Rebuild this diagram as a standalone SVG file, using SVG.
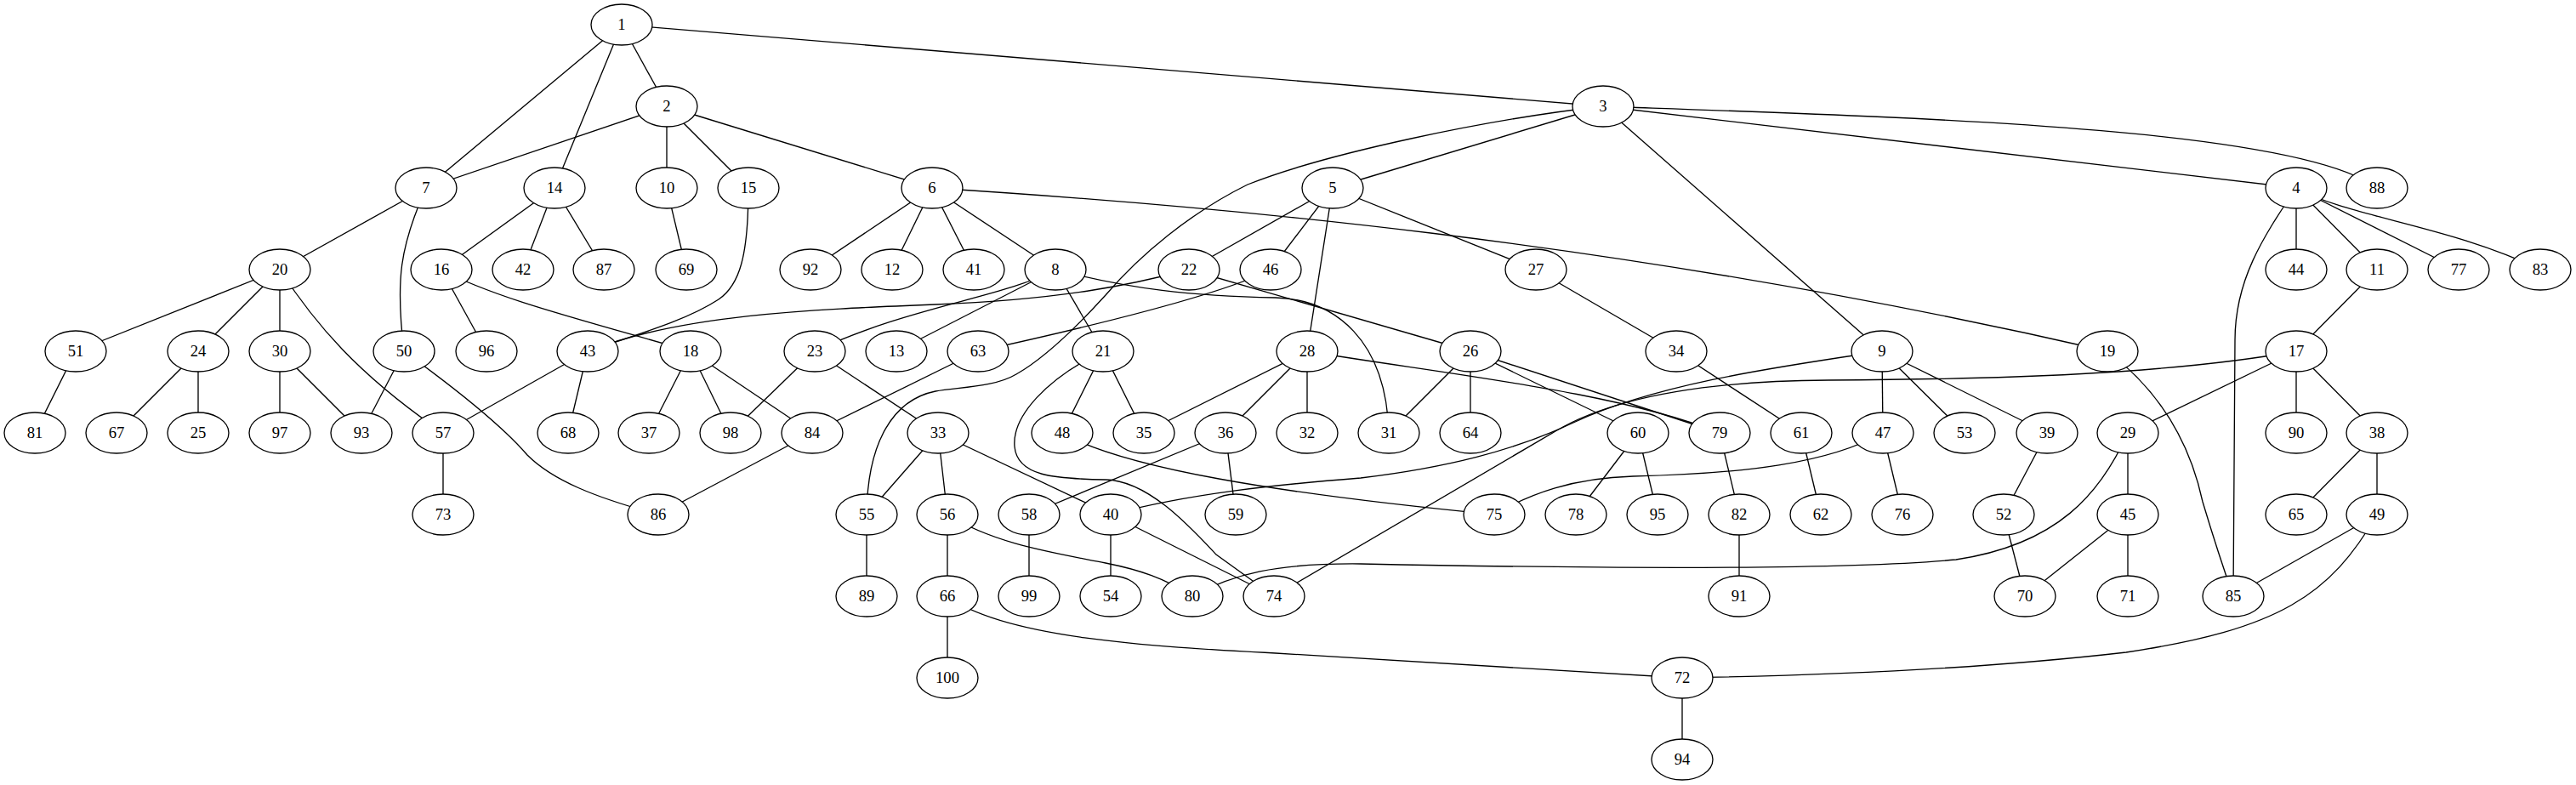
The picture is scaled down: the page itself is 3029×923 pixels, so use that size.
<svg xmlns="http://www.w3.org/2000/svg" width="3029" height="923" viewBox="0 0 3029 923">
<style>
.e path{fill:none;stroke:#000;stroke-width:1.33}
.n ellipse{fill:#fff;stroke:#000;stroke-width:1.33}
.n text{font-family:"Liberation Serif","Times New Roman",serif;font-size:18.67px;text-anchor:middle;fill:#000}
</style>
<rect width="3029" height="923" fill="#fff"/>
<g id="edges" class="e">
<path d="M731,29L784,125"/><path d="M731,29L501,221"/><path d="M731,29L652,221"/><path d="M731,29L1885,125"/>
<path d="M784,125L501,221"/><path d="M784,125L784,221"/><path d="M784,125L880,221"/><path d="M784,125L1096,221"/>
<path d="M1885,125L1567,221"/><path d="M1885,125L2700,221"/><path d="M1885,125L2213,413"/>
<path d="M501,221L329,317"/>
<path d="M652,221L519,317"/><path d="M652,221L615,317"/><path d="M652,221L710,317"/>
<path d="M784,221L807,317"/>
<path d="M1096,221L953,317"/><path d="M1096,221L1049,317"/><path d="M1096,221L1145,317"/><path d="M1096,221L1241,317"/>
<path d="M1567,221L1398,317"/><path d="M1567,221L1494,317"/><path d="M1567,221L1537,413"/><path d="M1567,221L1806,317"/>
<path d="M2700,221L2700,317"/><path d="M2700,221L2795,317"/><path d="M2700,221L2891,317"/>
<path d="M329,317L89,413"/><path d="M329,317L233,413"/><path d="M329,317L329,413"/>
<path d="M519,317L572,413"/>
<path d="M1241,317L1054,413"/><path d="M1241,317L1297,413"/>
<path d="M1398,317L1729,413"/>
<path d="M1806,317L1971,413"/>
<path d="M2795,317L2700,413"/>
<path d="M89,413L41,509"/>
<path d="M233,413L137,509"/><path d="M233,413L233,509"/>
<path d="M329,413L329,509"/><path d="M329,413L425,509"/>
<path d="M475,413L425,509"/>
<path d="M691,413L521,509"/><path d="M691,413L668,509"/>
<path d="M812,413L763,509"/><path d="M812,413L859,509"/><path d="M812,413L955,509"/>
<path d="M958,413L859,509"/><path d="M958,413L1103,509"/>
<path d="M1150,413L955,509"/>
<path d="M1297,413L1249,509"/><path d="M1297,413L1345,509"/>
<path d="M1537,413L1345,509"/><path d="M1537,413L1441,509"/><path d="M1537,413L1537,509"/>
<path d="M1729,413L1633,509"/><path d="M1729,413L1729,509"/><path d="M1729,413L1926,509"/><path d="M1729,413L2022,509"/>
<path d="M1971,413L2118,509"/>
<path d="M2213,413L2214,509"/><path d="M2213,413L2310,509"/><path d="M2213,413L2407,509"/>
<path d="M2700,413L2502,509"/><path d="M2700,413L2700,509"/><path d="M2700,413L2795,509"/>
<path d="M521,509L521,605"/>
<path d="M955,509L774,605"/>
<path d="M1103,509L1019,605"/><path d="M1103,509L1114,605"/><path d="M1103,509L1306,605"/>
<path d="M1441,509L1210,605"/><path d="M1441,509L1453,605"/>
<path d="M1926,509L1853,605"/><path d="M1926,509L1949,605"/>
<path d="M2022,509L2045,605"/>
<path d="M2118,509L2141,605"/>
<path d="M2214,509L2237,605"/>
<path d="M2407,509L2356,605"/>
<path d="M2502,509L2502,605"/>
<path d="M2795,509L2700,605"/><path d="M2795,509L2795,605"/>
<path d="M1019,605L1019,701"/><path d="M1114,605L1114,701"/><path d="M1210,605L1210,701"/><path d="M1306,605L1306,701"/><path d="M1306,605L1498,701"/>
<path d="M2045,605L2045,701"/>
<path d="M2356,605L2381,701"/><path d="M2502,605L2381,701"/><path d="M2502,605L2502,701"/>
<path d="M2795,605L2626,701"/>
<path d="M1114,701L1114,797"/>
<path d="M1978,797L1978,893"/>
<path d="M1885,125C2250,138 2700,150 2795,221"/>
<path d="M2700,221C2760,255 2880,265 2987,317"/>
<path d="M1885,125C1750,140 1560,180 1467,217C1400,250 1340,300 1300,347C1270,380 1230,420 1195,440C1170,455 1130,455 1100,460C1050,470 1020,520 1019,605"/>
<path d="M880,221C880,300 870,335 845,352C810,375 760,390 691,413"/>
<path d="M1398,317C1330,335 1250,352 1100,358C950,364 800,370 691,413"/>
<path d="M1241,317C1180,350 1070,360 958,413"/>
<path d="M1241,317C1330,340 1400,348 1500,350C1570,352 1630,400 1633,509"/>
<path d="M1494,317C1440,345 1300,380 1150,413"/>
<path d="M1096,221C1400,240 1900,280 2478,413"/>
<path d="M2700,221C2660,280 2628,330 2628,400L2626,701"/>
<path d="M2478,413C2540,460 2575,520 2590,590C2605,640 2615,670 2626,701"/>
<path d="M1297,413C1230,445 1190,490 1193,525C1196,560 1240,563 1300,564C1350,565 1400,620 1430,652L1498,701"/>
<path d="M1249,509C1320,550 1500,580 1757,605"/>
<path d="M2213,413C2100,430 1950,450 1850,497C1780,530 1700,550 1600,562C1500,570 1400,580 1306,605"/>
<path d="M2700,413C2550,440 2350,446 2150,447C2000,448 1895,468 1829,507L1498,701"/>
<path d="M2502,509C2470,580 2420,640 2300,658C2150,672 1800,667 1600,663C1500,662 1450,675 1402,701"/>
<path d="M2214,509C2150,545 2050,557 1920,560C1850,562 1800,580 1757,605"/>
<path d="M1114,605C1170,640 1240,650 1300,662C1340,670 1370,680 1402,701"/>
<path d="M1114,701C1180,750 1350,760 1500,768L1978,797"/>
<path d="M2795,605C2740,700 2680,740 2500,767C2300,790 2100,795 1978,797"/>
<path d="M1537,413C1700,440 1900,460 2022,509"/>
<path d="M519,317C580,350 680,375 812,413"/>
<path d="M501,221C470,290 465,330 475,413"/>
<path d="M329,317C370,380 420,440 521,509"/>
<path d="M475,413C540,460 590,500 620,535C650,565 700,585 774,605"/>
</g>
<g class="n">
<g id="node1"><ellipse cx="731" cy="29" rx="36" ry="24"/><text x="731" y="35">1</text></g>
<g id="node2"><ellipse cx="784" cy="125" rx="36" ry="24"/><text x="784" y="131">2</text></g>
<g id="node3"><ellipse cx="1885" cy="125" rx="36" ry="24"/><text x="1885" y="131">3</text></g>
<g id="node7"><ellipse cx="501" cy="221" rx="36" ry="24"/><text x="501" y="227">7</text></g>
<g id="node14"><ellipse cx="652" cy="221" rx="36" ry="24"/><text x="652" y="227">14</text></g>
<g id="node10"><ellipse cx="784" cy="221" rx="36" ry="24"/><text x="784" y="227">10</text></g>
<g id="node15"><ellipse cx="880" cy="221" rx="36" ry="24"/><text x="880" y="227">15</text></g>
<g id="node6"><ellipse cx="1096" cy="221" rx="36" ry="24"/><text x="1096" y="227">6</text></g>
<g id="node5"><ellipse cx="1567" cy="221" rx="36" ry="24"/><text x="1567" y="227">5</text></g>
<g id="node4"><ellipse cx="2700" cy="221" rx="36" ry="24"/><text x="2700" y="227">4</text></g>
<g id="node88"><ellipse cx="2795" cy="221" rx="36" ry="24"/><text x="2795" y="227">88</text></g>
<g id="node20"><ellipse cx="329" cy="317" rx="36" ry="24"/><text x="329" y="323">20</text></g>
<g id="node16"><ellipse cx="519" cy="317" rx="36" ry="24"/><text x="519" y="323">16</text></g>
<g id="node42"><ellipse cx="615" cy="317" rx="36" ry="24"/><text x="615" y="323">42</text></g>
<g id="node87"><ellipse cx="710" cy="317" rx="36" ry="24"/><text x="710" y="323">87</text></g>
<g id="node69"><ellipse cx="807" cy="317" rx="36" ry="24"/><text x="807" y="323">69</text></g>
<g id="node92"><ellipse cx="953" cy="317" rx="36" ry="24"/><text x="953" y="323">92</text></g>
<g id="node12"><ellipse cx="1049" cy="317" rx="36" ry="24"/><text x="1049" y="323">12</text></g>
<g id="node41"><ellipse cx="1145" cy="317" rx="36" ry="24"/><text x="1145" y="323">41</text></g>
<g id="node8"><ellipse cx="1241" cy="317" rx="36" ry="24"/><text x="1241" y="323">8</text></g>
<g id="node22"><ellipse cx="1398" cy="317" rx="36" ry="24"/><text x="1398" y="323">22</text></g>
<g id="node46"><ellipse cx="1494" cy="317" rx="36" ry="24"/><text x="1494" y="323">46</text></g>
<g id="node27"><ellipse cx="1806" cy="317" rx="36" ry="24"/><text x="1806" y="323">27</text></g>
<g id="node44"><ellipse cx="2700" cy="317" rx="36" ry="24"/><text x="2700" y="323">44</text></g>
<g id="node11"><ellipse cx="2795" cy="317" rx="36" ry="24"/><text x="2795" y="323">11</text></g>
<g id="node77"><ellipse cx="2891" cy="317" rx="36" ry="24"/><text x="2891" y="323">77</text></g>
<g id="node83"><ellipse cx="2987" cy="317" rx="36" ry="24"/><text x="2987" y="323">83</text></g>
<g id="node51"><ellipse cx="89" cy="413" rx="36" ry="24"/><text x="89" y="419">51</text></g>
<g id="node24"><ellipse cx="233" cy="413" rx="36" ry="24"/><text x="233" y="419">24</text></g>
<g id="node30"><ellipse cx="329" cy="413" rx="36" ry="24"/><text x="329" y="419">30</text></g>
<g id="node50"><ellipse cx="475" cy="413" rx="36" ry="24"/><text x="475" y="419">50</text></g>
<g id="node96"><ellipse cx="572" cy="413" rx="36" ry="24"/><text x="572" y="419">96</text></g>
<g id="node43"><ellipse cx="691" cy="413" rx="36" ry="24"/><text x="691" y="419">43</text></g>
<g id="node18"><ellipse cx="812" cy="413" rx="36" ry="24"/><text x="812" y="419">18</text></g>
<g id="node23"><ellipse cx="958" cy="413" rx="36" ry="24"/><text x="958" y="419">23</text></g>
<g id="node13"><ellipse cx="1054" cy="413" rx="36" ry="24"/><text x="1054" y="419">13</text></g>
<g id="node63"><ellipse cx="1150" cy="413" rx="36" ry="24"/><text x="1150" y="419">63</text></g>
<g id="node21"><ellipse cx="1297" cy="413" rx="36" ry="24"/><text x="1297" y="419">21</text></g>
<g id="node28"><ellipse cx="1537" cy="413" rx="36" ry="24"/><text x="1537" y="419">28</text></g>
<g id="node26"><ellipse cx="1729" cy="413" rx="36" ry="24"/><text x="1729" y="419">26</text></g>
<g id="node34"><ellipse cx="1971" cy="413" rx="36" ry="24"/><text x="1971" y="419">34</text></g>
<g id="node9"><ellipse cx="2213" cy="413" rx="36" ry="24"/><text x="2213" y="419">9</text></g>
<g id="node19"><ellipse cx="2478" cy="413" rx="36" ry="24"/><text x="2478" y="419">19</text></g>
<g id="node17"><ellipse cx="2700" cy="413" rx="36" ry="24"/><text x="2700" y="419">17</text></g>
<g id="node81"><ellipse cx="41" cy="509" rx="36" ry="24"/><text x="41" y="515">81</text></g>
<g id="node67"><ellipse cx="137" cy="509" rx="36" ry="24"/><text x="137" y="515">67</text></g>
<g id="node25"><ellipse cx="233" cy="509" rx="36" ry="24"/><text x="233" y="515">25</text></g>
<g id="node97"><ellipse cx="329" cy="509" rx="36" ry="24"/><text x="329" y="515">97</text></g>
<g id="node93"><ellipse cx="425" cy="509" rx="36" ry="24"/><text x="425" y="515">93</text></g>
<g id="node57"><ellipse cx="521" cy="509" rx="36" ry="24"/><text x="521" y="515">57</text></g>
<g id="node68"><ellipse cx="668" cy="509" rx="36" ry="24"/><text x="668" y="515">68</text></g>
<g id="node37"><ellipse cx="763" cy="509" rx="36" ry="24"/><text x="763" y="515">37</text></g>
<g id="node98"><ellipse cx="859" cy="509" rx="36" ry="24"/><text x="859" y="515">98</text></g>
<g id="node84"><ellipse cx="955" cy="509" rx="36" ry="24"/><text x="955" y="515">84</text></g>
<g id="node33"><ellipse cx="1103" cy="509" rx="36" ry="24"/><text x="1103" y="515">33</text></g>
<g id="node48"><ellipse cx="1249" cy="509" rx="36" ry="24"/><text x="1249" y="515">48</text></g>
<g id="node35"><ellipse cx="1345" cy="509" rx="36" ry="24"/><text x="1345" y="515">35</text></g>
<g id="node36"><ellipse cx="1441" cy="509" rx="36" ry="24"/><text x="1441" y="515">36</text></g>
<g id="node32"><ellipse cx="1537" cy="509" rx="36" ry="24"/><text x="1537" y="515">32</text></g>
<g id="node31"><ellipse cx="1633" cy="509" rx="36" ry="24"/><text x="1633" y="515">31</text></g>
<g id="node64"><ellipse cx="1729" cy="509" rx="36" ry="24"/><text x="1729" y="515">64</text></g>
<g id="node60"><ellipse cx="1926" cy="509" rx="36" ry="24"/><text x="1926" y="515">60</text></g>
<g id="node79"><ellipse cx="2022" cy="509" rx="36" ry="24"/><text x="2022" y="515">79</text></g>
<g id="node61"><ellipse cx="2118" cy="509" rx="36" ry="24"/><text x="2118" y="515">61</text></g>
<g id="node47"><ellipse cx="2214" cy="509" rx="36" ry="24"/><text x="2214" y="515">47</text></g>
<g id="node53"><ellipse cx="2310" cy="509" rx="36" ry="24"/><text x="2310" y="515">53</text></g>
<g id="node39"><ellipse cx="2407" cy="509" rx="36" ry="24"/><text x="2407" y="515">39</text></g>
<g id="node29"><ellipse cx="2502" cy="509" rx="36" ry="24"/><text x="2502" y="515">29</text></g>
<g id="node90"><ellipse cx="2700" cy="509" rx="36" ry="24"/><text x="2700" y="515">90</text></g>
<g id="node38"><ellipse cx="2795" cy="509" rx="36" ry="24"/><text x="2795" y="515">38</text></g>
<g id="node73"><ellipse cx="521" cy="605" rx="36" ry="24"/><text x="521" y="611">73</text></g>
<g id="node86"><ellipse cx="774" cy="605" rx="36" ry="24"/><text x="774" y="611">86</text></g>
<g id="node55"><ellipse cx="1019" cy="605" rx="36" ry="24"/><text x="1019" y="611">55</text></g>
<g id="node56"><ellipse cx="1114" cy="605" rx="36" ry="24"/><text x="1114" y="611">56</text></g>
<g id="node58"><ellipse cx="1210" cy="605" rx="36" ry="24"/><text x="1210" y="611">58</text></g>
<g id="node40"><ellipse cx="1306" cy="605" rx="36" ry="24"/><text x="1306" y="611">40</text></g>
<g id="node59"><ellipse cx="1453" cy="605" rx="36" ry="24"/><text x="1453" y="611">59</text></g>
<g id="node75"><ellipse cx="1757" cy="605" rx="36" ry="24"/><text x="1757" y="611">75</text></g>
<g id="node78"><ellipse cx="1853" cy="605" rx="36" ry="24"/><text x="1853" y="611">78</text></g>
<g id="node95"><ellipse cx="1949" cy="605" rx="36" ry="24"/><text x="1949" y="611">95</text></g>
<g id="node82"><ellipse cx="2045" cy="605" rx="36" ry="24"/><text x="2045" y="611">82</text></g>
<g id="node62"><ellipse cx="2141" cy="605" rx="36" ry="24"/><text x="2141" y="611">62</text></g>
<g id="node76"><ellipse cx="2237" cy="605" rx="36" ry="24"/><text x="2237" y="611">76</text></g>
<g id="node52"><ellipse cx="2356" cy="605" rx="36" ry="24"/><text x="2356" y="611">52</text></g>
<g id="node45"><ellipse cx="2502" cy="605" rx="36" ry="24"/><text x="2502" y="611">45</text></g>
<g id="node65"><ellipse cx="2700" cy="605" rx="36" ry="24"/><text x="2700" y="611">65</text></g>
<g id="node49"><ellipse cx="2795" cy="605" rx="36" ry="24"/><text x="2795" y="611">49</text></g>
<g id="node89"><ellipse cx="1019" cy="701" rx="36" ry="24"/><text x="1019" y="707">89</text></g>
<g id="node66"><ellipse cx="1114" cy="701" rx="36" ry="24"/><text x="1114" y="707">66</text></g>
<g id="node99"><ellipse cx="1210" cy="701" rx="36" ry="24"/><text x="1210" y="707">99</text></g>
<g id="node54"><ellipse cx="1306" cy="701" rx="36" ry="24"/><text x="1306" y="707">54</text></g>
<g id="node80"><ellipse cx="1402" cy="701" rx="36" ry="24"/><text x="1402" y="707">80</text></g>
<g id="node74"><ellipse cx="1498" cy="701" rx="36" ry="24"/><text x="1498" y="707">74</text></g>
<g id="node91"><ellipse cx="2045" cy="701" rx="36" ry="24"/><text x="2045" y="707">91</text></g>
<g id="node70"><ellipse cx="2381" cy="701" rx="36" ry="24"/><text x="2381" y="707">70</text></g>
<g id="node71"><ellipse cx="2502" cy="701" rx="36" ry="24"/><text x="2502" y="707">71</text></g>
<g id="node85"><ellipse cx="2626" cy="701" rx="36" ry="24"/><text x="2626" y="707">85</text></g>
<g id="node100"><ellipse cx="1114" cy="797" rx="36" ry="24"/><text x="1114" y="803">100</text></g>
<g id="node72"><ellipse cx="1978" cy="797" rx="36" ry="24"/><text x="1978" y="803">72</text></g>
<g id="node94"><ellipse cx="1978" cy="893" rx="36" ry="24"/><text x="1978" y="899">94</text></g>
</g>
</svg>
